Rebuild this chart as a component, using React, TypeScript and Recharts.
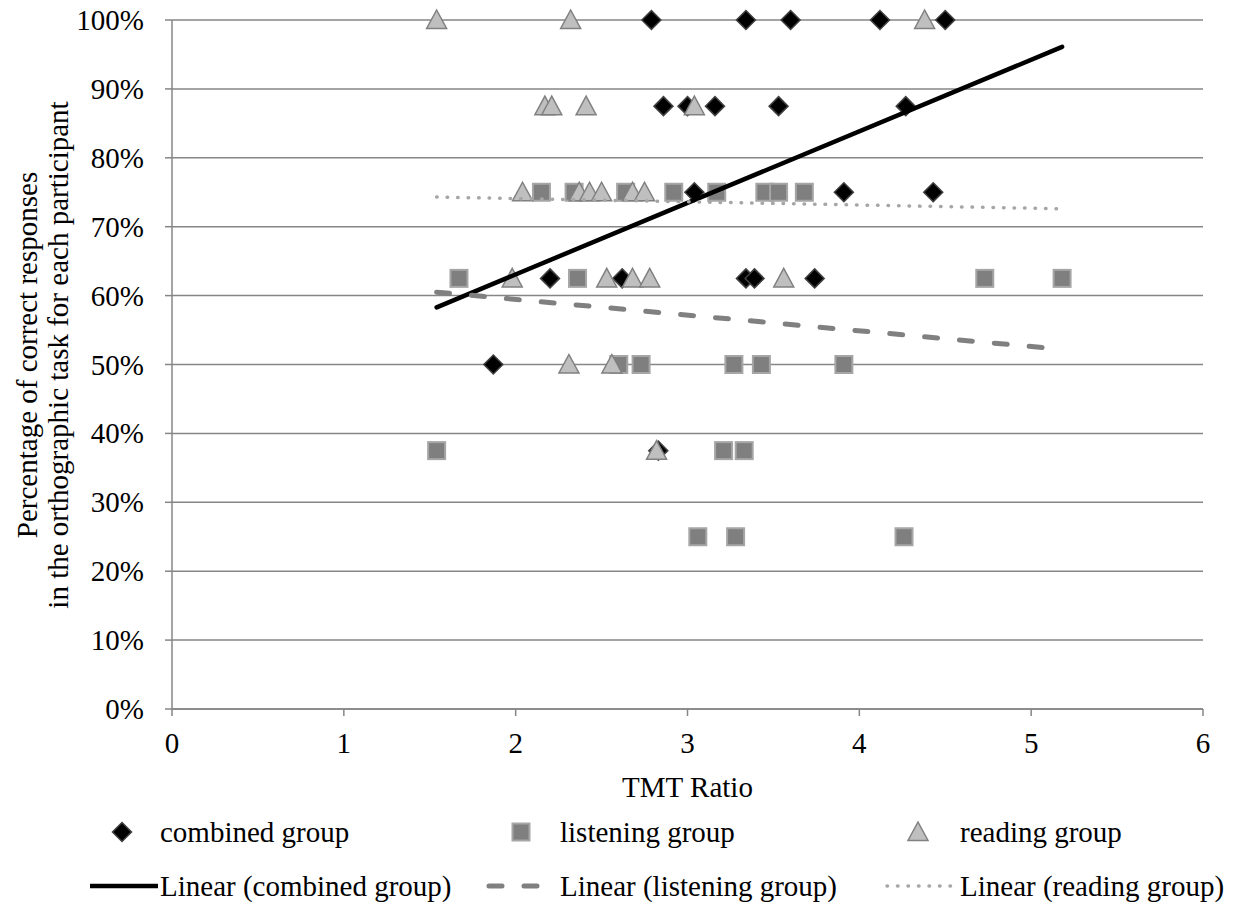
import React from 'react';
import { ScatterChart, Scatter, XAxis, YAxis, CartesianGrid, Label } from 'recharts';

const W = 1239;
const H = 910;
const FONT = '"Liberation Serif", "Times New Roman", Times, serif';
const FS = 29;
const AXIS = '#868686';

// TMT ratio (x) and share of correct responses (y) for each participant
const combinedTmt = [2.79, 3.34, 3.6, 4.12, 4.5, 2.86, 3.0, 3.16, 3.53, 4.27, 3.04, 3.91, 4.43, 2.2, 2.62, 3.34, 3.39, 3.74, 1.87, 2.83];
const combinedScore = [1, 1, 1, 1, 1, 0.875, 0.875, 0.875, 0.875, 0.875, 0.75, 0.75, 0.75, 0.625, 0.625, 0.625, 0.625, 0.625, 0.5, 0.375];

const listeningTmt = [2.15, 2.34, 2.64, 2.92, 3.17, 3.45, 3.53, 3.68, 1.67, 2.36, 4.73, 5.18, 2.6, 2.73, 3.27, 3.43, 3.91, 1.54, 3.21, 3.33, 3.06, 3.28, 4.26];
const listeningScore = [0.75, 0.75, 0.75, 0.75, 0.75, 0.75, 0.75, 0.75, 0.625, 0.625, 0.625, 0.625, 0.5, 0.5, 0.5, 0.5, 0.5, 0.375, 0.375, 0.375, 0.25, 0.25, 0.25];

const readingTmt = [1.54, 2.32, 4.38, 2.17, 2.21, 2.41, 3.04, 2.04, 2.37, 2.43, 2.5, 2.68, 2.75, 1.98, 2.53, 2.68, 2.78, 3.56, 2.31, 2.56, 2.82];
const readingScore = [1, 1, 1, 0.875, 0.875, 0.875, 0.875, 0.75, 0.75, 0.75, 0.75, 0.75, 0.75, 0.625, 0.625, 0.625, 0.625, 0.625, 0.5, 0.5, 0.375];

// linear trendline end points
const trendTmt = [1.54, 5.18];
const trendCombined = [0.583, 0.961];
const trendListening = [0.605, 0.522];
const trendReading = [0.743, 0.726];

const xTicks = [0, 1, 2, 3, 4, 5, 6];
const yTicks = [0, 0.1, 0.2, 0.3, 0.4, 0.5, 0.6, 0.7, 0.8, 0.9, 1];

const toPoints = (xs: number[], ys: number[]) => xs.map((x, i) => ({ x, y: ys[i] }));

const Diamond = ({ cx, cy }: any) => {
  if (cx == null || cy == null) return <g />;
  const r = 9.5;
  return (
    <polygon
      points={`${cx},${cy - r} ${cx + r},${cy} ${cx},${cy + r} ${cx - r},${cy}`}
      fill="#000"
      stroke="#404040"
      strokeWidth={1.5}
    />
  );
};

const Square = ({ cx, cy }: any) => {
  if (cx == null || cy == null) return <g />;
  const s = 17;
  return <rect x={cx - s / 2} y={cy - s / 2} width={s} height={s} fill="#7f7f7f" stroke="#a6a6a6" strokeWidth={2} />;
};

const Triangle = ({ cx, cy }: any) => {
  if (cx == null || cy == null) return <g />;
  return (
    <polygon
      points={`${cx},${cy - 10} ${cx + 10},${cy + 8.5} ${cx - 10},${cy + 8.5}`}
      fill="#bfbfbf"
      stroke="#808080"
      strokeWidth={1.5}
    />
  );
};

const NoShape = () => <g />;

const YTick = ({ x, y, payload }: any) => (
  <text x={x} y={y} textAnchor="end" dominantBaseline="central" fontFamily={FONT} fontSize={FS} fill="#000">
    {Math.round(payload.value * 100)}%
  </text>
);

const XTick = ({ x, y, payload }: any) => (
  <text x={x} y={y} textAnchor="middle" dominantBaseline="central" fontFamily={FONT} fontSize={FS} fill="#000">
    {payload.value}
  </text>
);

const XTitle = ({ viewBox }: any) => (
  <text
    x={viewBox.x + viewBox.width / 2}
    y={787}
    textAnchor="middle"
    dominantBaseline="central"
    fontFamily={FONT}
    fontSize={FS}
    fill="#000"
  >
    TMT Ratio
  </text>
);

const YTitle = () => {
  const cy = 355;
  return (
    <g fontFamily={FONT} fontSize={FS} fill="#000">
      <text x={27} y={cy} transform={`rotate(-90 27 ${cy})`} textAnchor="middle" dominantBaseline="central">
        Percentage of correct responses
      </text>
      <text x={58} y={cy} transform={`rotate(-90 58 ${cy})`} textAnchor="middle" dominantBaseline="central">
        in the orthographic task for each participant
      </text>
    </g>
  );
};

function LegendOverlay() {
  const r1 = 832;
  const r2 = 886;
  const txt = { fontFamily: FONT, fontSize: FS, fill: '#000', dominantBaseline: 'central' as const };
  return (
    <svg width={W} height={H} style={{ position: 'absolute', left: 0, top: 0, pointerEvents: 'none' }}>
      <Diamond cx={122} cy={r1} />
      <text x={160} y={r1} {...txt}>combined group</text>
      <Square cx={521} cy={r1} />
      <text x={560} y={r1} {...txt}>listening group</text>
      <Triangle cx={918} cy={r1} />
      <text x={960} y={r1} {...txt}>reading group</text>

      <line x1={90} y1={r2} x2={158} y2={r2} stroke="#000" strokeWidth={4.5} />
      <text x={160} y={r2} {...txt}>Linear (combined group)</text>
      <line x1={489} y1={r2} x2={540} y2={r2} stroke="#808080" strokeWidth={5} strokeDasharray="13 22" strokeLinecap="round" />
      <text x={560} y={r2} {...txt}>Linear (listening group)</text>
      <line x1={887} y1={r2} x2={952} y2={r2} stroke="#a6a6a6" strokeWidth={3.5} strokeDasharray="0.5 10" strokeLinecap="round" />
      <text x={960} y={r2} {...txt}>Linear (reading group)</text>
    </svg>
  );
}

export default function App() {
  return (
    <div style={{ position: 'absolute', left: 0, top: 0, width: W, height: H, background: '#fff' }}>
      <ScatterChart width={W} height={H} margin={{ top: 20, right: 36, bottom: 141, left: 72 }}>
        <CartesianGrid vertical={false} stroke={AXIS} strokeWidth={1.5} />
        <XAxis
          type="number"
          dataKey="x"
          domain={[0, 6]}
          ticks={xTicks}
          interval={0}
          height={60}
          axisLine={{ stroke: AXIS, strokeWidth: 1.5 }}
          tickLine={{ stroke: AXIS, strokeWidth: 1.5 }}
          tickSize={7}
          tickMargin={27}
          tick={<XTick />}
        >
          <Label content={<XTitle />} />
        </XAxis>
        <YAxis
          type="number"
          dataKey="y"
          domain={[0, 1]}
          ticks={yTicks}
          interval={0}
          width={100}
          axisLine={{ stroke: AXIS, strokeWidth: 1.5 }}
          tickLine={{ stroke: AXIS, strokeWidth: 1.5 }}
          tickSize={7}
          tickMargin={21}
          tick={<YTick />}
        >
          <Label content={<YTitle />} />
        </YAxis>
        <Scatter name="combined group" data={toPoints(combinedTmt, combinedScore)} shape={<Diamond />} isAnimationActive={false} />
        <Scatter name="listening group" data={toPoints(listeningTmt, listeningScore)} shape={<Square />} isAnimationActive={false} />
        <Scatter name="reading group" data={toPoints(readingTmt, readingScore)} shape={<Triangle />} isAnimationActive={false} />
        <Scatter
          name="Linear (combined group)"
          data={toPoints(trendTmt, trendCombined)}
          shape={<NoShape />}
          line={{ stroke: '#000', strokeWidth: 4.5, strokeLinecap: 'round' }}
          isAnimationActive={false}
        />
        <Scatter
          name="Linear (listening group)"
          data={toPoints(trendTmt, trendListening)}
          shape={<NoShape />}
          line={{ stroke: '#808080', strokeWidth: 5, strokeDasharray: '13 22', strokeLinecap: 'round' }}
          isAnimationActive={false}
        />
        <Scatter
          name="Linear (reading group)"
          data={toPoints(trendTmt, trendReading)}
          shape={<NoShape />}
          line={{ stroke: '#a6a6a6', strokeWidth: 3.5, strokeDasharray: '0.5 10', strokeLinecap: 'round' }}
          isAnimationActive={false}
        />
      </ScatterChart>
      <LegendOverlay />
    </div>
  );
}
